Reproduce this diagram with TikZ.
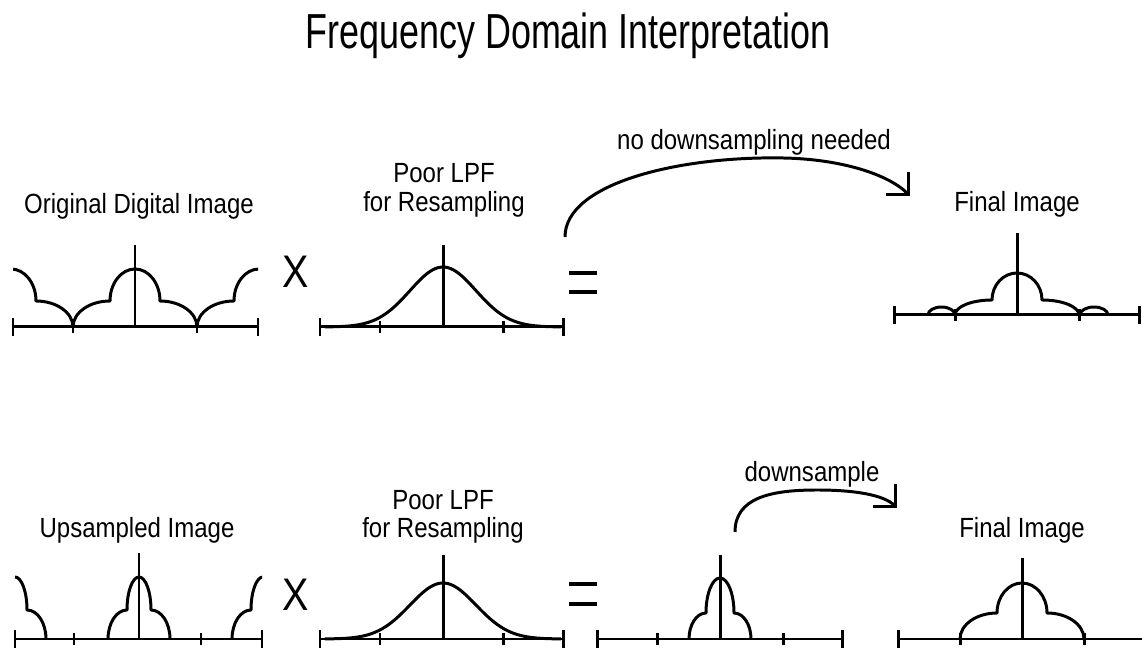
\documentclass[tikz,border=0pt]{standalone}
\usepackage{fontspec}
\setmainfont{Liberation Sans}[FakeStretch=0.865]
\newfontfamily\titlefont{Liberation Sans}[FakeStretch=0.73]
\usetikzlibrary{arrows.meta,positioning}

% one replica of the spectrum: centre, base, lobe half width, lobe height, shoulder width, shoulder height
\newcommand{\specbump}[6]{\draw[curve] (#1-#3-#5,#2) arc[start angle=180,end angle=90,x radius=#5,y radius=#6]
  arc[start angle=180,end angle=0,x radius=#3,y radius=#4] arc[start angle=90,end angle=0,x radius=#5,y radius=#6];}

\begin{document}
\begin{tikzpicture}[x=0.02cm, y=0.02cm, line join=round,
  curve/.style={line width=1.7pt},
  axis/.style={line width=1.7pt},
  lbl/.style={font=\fontsize{15.8}{18}\selectfont, anchor=base, inner sep=0pt},
  opsign/.style={font=\fontsize{26}{28}\selectfont, inner sep=0pt},
  >={Straight Barb[length=9pt,width=18pt]}]
\useasboundingbox (0,0) rectangle (1142,648);

\node[font=\titlefont\fontsize{28}{32}\selectfont, anchor=base, inner sep=0pt] (title) at (568,599) {Frequency Domain Interpretation};

% top row: original image
\node[lbl] (origlbl) at (139,434) {Original Digital Image};
\draw[axis] (13,321) -- (258,321);
\foreach \t in {13,258} \draw[axis] (\t,312) -- (\t,330);
\foreach \t in {73,197} \draw[axis] (\t,315) -- (\t,327);
\draw[axis] (135,321) -- (135,403);
\begin{scope}
\clip (13,300) rectangle (258,420);
\foreach \c in {11,135,259} {\specbump{\c}{321}{25}{32}{37}{26}}
\end{scope}

\node[opsign] (times1) at (296,376) {X};

% top row: filter
\node[lbl] (lpf1a) at (444,465) {Poor LPF};
\node[lbl] (lpf1b) at (444,436) {for Resampling};
\draw[axis] (320,321) -- (563,321);
\foreach \t in {320,563} \draw[axis] (\t,312) -- (\t,330);
\foreach \t in {380,503} \draw[axis] (\t,315) -- (\t,327);
\draw[axis] (443,321) -- (443,403);
\draw[curve] plot[domain=-118:118, samples=80, smooth] ({443+\x},{321+60*exp(-(\x*\x)/2178)});

\draw[line width=2.2pt] (569,375) -- (597,375) (569,356) -- (597,356);

% top row: result
\node[lbl] (final1) at (1017,436) {Final Image};
\draw[axis] (894,333) -- (1139,333);
\foreach \t in {894,1139} \draw[axis] (\t,324) -- (\t,342);
\foreach \t in {955,1079} \draw[axis] (\t,327) -- (\t,339);
\draw[axis] (1017,333) -- (1017,415);
\specbump{1017}{333}{25}{27}{37}{15}
\draw[curve] (928,333) arc[start angle=180,end angle=0,x radius=13.5,y radius=8];
\draw[curve] (1080,333) arc[start angle=180,end angle=0,x radius=14,y radius=8];

\node[lbl] (nodown) at (754,498) {no downsampling needed};
\coordinate (nofrom) at (565,411);
\coordinate (noto) at (910,452);
\draw[curve,->] (nofrom) .. controls (565,465) and (680,492) .. (783,490) .. controls (840,489) and (888,474) .. (noto);

% bottom row: upsampled image
\node[lbl] (uplbl) at (137,110) {Upsampled Image};
\draw[axis] (15,9) -- (262,9);
\foreach \t in {15,262} \draw[axis] (\t,0) -- (\t,18);
\foreach \t in {74,201} \draw[axis] (\t,3) -- (\t,15);
\draw[axis] (139,9) -- (139,95);
\begin{scope}
\clip (15,0) rectangle (262,120);
\foreach \c in {15,139,263} {\specbump{\c}{9}{12}{33}{19}{29}}
\end{scope}

\node[opsign] (times2) at (296,53) {X};

% bottom row: filter
\node[lbl] (lpf2a) at (443,138) {Poor LPF};
\node[lbl] (lpf2b) at (443,110) {for Resampling};
\draw[axis] (320,9) -- (563,9);
\foreach \t in {320,563} \draw[axis] (\t,0) -- (\t,18);
\foreach \t in {380,503} \draw[axis] (\t,3) -- (\t,15);
\draw[axis] (443,9) -- (443,93);
\draw[curve] plot[domain=-118:118, samples=80, smooth] ({443+\x},{9+56*exp(-(\x*\x)/2178)});

\draw[line width=2.2pt] (569,64) -- (597,64) (569,44) -- (597,44);

% bottom row: filtered, then downsampled
\draw[axis] (597,9) -- (842,9);
\foreach \t in {597,842} \draw[axis] (\t,0) -- (\t,18);
\foreach \t in {657,783} \draw[axis] (\t,3) -- (\t,15);
\draw[axis] (720,9) -- (720,93);
\specbump{720}{9}{14}{35}{17}{26}

\node[lbl] (downlbl) at (812,166) {downsample};
\coordinate (downfrom) at (735,116);
\coordinate (downto) at (897,140);
\draw[curve,->] (downfrom) .. controls (735,150) and (770,158) .. (817,158) .. controls (855,158) and (884,153) .. (downto);

\node[lbl] (final2) at (1022,110) {Final Image};
\draw[axis] (898,9) -- (1142,9);
\draw[axis] (898,0) -- (898,18);
\foreach \t in {960,1084} \draw[axis] (\t,3) -- (\t,15);
\draw[axis] (1022,9) -- (1022,90);
\specbump{1022}{9}{25}{30}{37}{26}
\end{tikzpicture}
\end{document}
